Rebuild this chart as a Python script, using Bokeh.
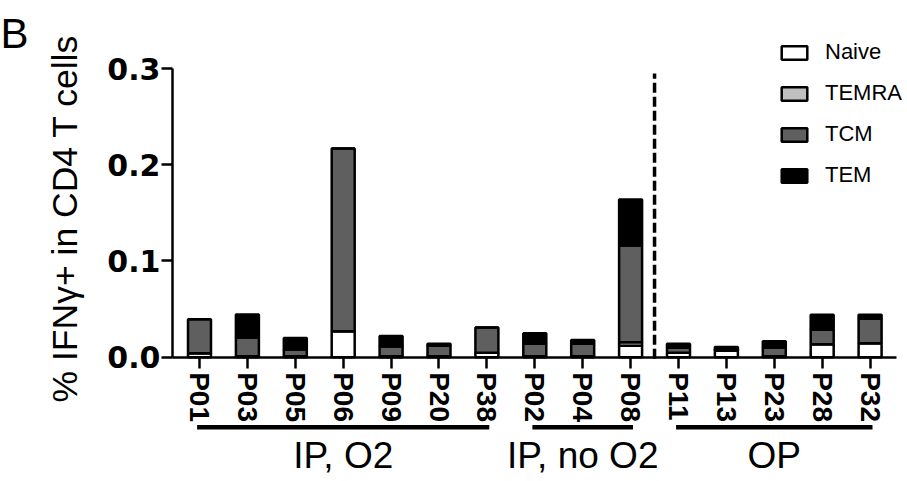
import math
from bokeh.plotting import figure
from bokeh.models import ColumnDataSource, Range1d, FixedTicker, PrintfTickFormatter
from bokeh.core.properties import value
from bokeh.embed import file_html
from bokeh.resources import INLINE

# ---- data ----
patients = ["P01", "P03", "P05", "P06", "P09", "P20", "P38",
            "P02", "P04", "P08",
            "P11", "P13", "P23", "P28", "P32"]
naive = [0.004, 0.001, 0.001, 0.027, 0.001, 0.001, 0.0045,
         0.001, 0.001, 0.012,
         0.0045, 0.007, 0.001, 0.0135, 0.0145]
temra = [0.0, 0.0, 0.0, 0.0, 0.0, 0.0, 0.0,
         0.0, 0.0, 0.0035,
         0.0, 0.0, 0.0, 0.0, 0.0]
tcm = [0.0355, 0.0195, 0.007, 0.190, 0.010, 0.011, 0.0265,
       0.013, 0.013, 0.1005,
       0.0055, 0.001, 0.009, 0.015, 0.0255]
tem = [0.0, 0.024, 0.012, 0.0, 0.011, 0.002, 0.0,
       0.011, 0.004, 0.048,
       0.004, 0.0025, 0.0065, 0.0155, 0.004]
subsets = ["Naive", "TEMRA", "TCM", "TEM"]
subset_colors = ["#ffffff", "#c0c0c0", "#5f5f5f", "#000000"]
groups = ["IP, O2", "IP, no O2", "OP"]
group_sizes = [7, 3, 5]
y_ticks = [0.0, 0.1, 0.2, 0.3]

FONT = "Liberation Sans"

idx = list(range(len(patients)))
source = ColumnDataSource(dict(x=idx, Naive=naive, TEMRA=temra, TCM=tcm, TEM=tem))

p = figure(width=907, height=481, output_backend="svg", toolbar_location=None,
           x_range=Range1d(-4.1545, 14.781), y_range=Range1d(-0.12921, 0.37079),
           min_border=0)
p.outline_line_color = None
p.grid.visible = False
p.background_fill_color = "white"

# bars
p.vbar_stack(subsets, x="x", width=0.48, source=source,
             fill_color=subset_colors, line_color="black", line_width=2.5,
             legend_label=subsets)

# axes inside the frame
xa = p.xaxis[0]
xa.fixed_location = 0
xa.bounds = (-0.564, 14.55)
xa.ticker = FixedTicker(ticks=idx)
xa.major_label_overrides = {i: n for i, n in zip(idx, patients)}
xa.major_label_orientation = "vertical"
xa.major_label_text_font = FONT
xa.major_label_text_font_style = "bold"
xa.major_label_text_font_size = "28px"
xa.major_label_text_color = "black"
xa.major_label_standoff = 4
xa.major_tick_out = 11
xa.major_tick_in = 0
xa.minor_tick_out = 0
xa.minor_tick_in = 0
xa.axis_line_width = 2.5
xa.major_tick_line_width = 2.5
xa.axis_line_color = "black"

ya = p.yaxis[0]
ya.fixed_location = -0.564
ya.bounds = (0, 0.3)
ya.ticker = FixedTicker(ticks=y_ticks)
ya.formatter = PrintfTickFormatter(format="%.1f")
ya.major_label_text_font = "DejaVu Sans"
ya.major_label_text_font_style = "bold"
ya.major_label_text_font_size = "30px"
ya.major_label_text_color = "black"
ya.major_label_standoff = 1
ya.major_tick_out = 11
ya.major_tick_in = 0
ya.minor_tick_out = 0
ya.minor_tick_in = 0
ya.axis_line_width = 2.5
ya.major_tick_line_width = 2.5

# divider between inpatients and outpatients
split = group_sizes[0] + group_sizes[1] - 0.5
p.segment(x0=[split], y0=[-0.0015], x1=[split], y1=[0.295],
          line_color="black", line_width=3.5, line_dash="10 4")

# group lines and labels
starts, ends, mids = [], [], []
s = 0
for n in group_sizes:
    starts.append(s - 0.05)
    ends.append(s + n - 1 + 0.05)
    mids.append(s + (n - 1) / 2)
    s += n
line_y = -0.0727
p.segment(x0=starts, y0=[line_y] * 3, x1=ends, y1=[line_y] * 3,
          line_color="black", line_width=4.5)
p.text(x=mids, y=[-0.1027] * 3, text=groups, text_font=value(FONT),
       text_font_size=value("37px"), text_align="center",
       text_baseline="alphabetic", text_color="black")

# y axis title and panel letter
p.text(x=[-2.818], y=[0.1442], text=["% IFN\u03b3+ in CD4 T cells"], angle=math.pi / 2,
       text_font=value(FONT), text_font_size=value("35.5px"), text_align="center",
       text_baseline="middle", text_color="black")
p.text(x=[-4.154], y=[0.3365], text=["B"], text_font=value(FONT),
       text_font_size=value("42px"), text_align="left",
       text_baseline="alphabetic", text_color="black")

# legend
lg = p.legend[0]
lg.location = (778, 293)
lg.margin = 0
lg.padding = 0
lg.border_line_color = None
lg.background_fill_alpha = 0
lg.glyph_width = 32
lg.glyph_height = 17
lg.label_height = 24
lg.spacing = 15
lg.label_standoff = 15
lg.label_text_font = FONT
lg.label_text_font_size = "22px"
lg.label_text_color = "black"

open("out.html", "w").write(file_html(p, INLINE))
